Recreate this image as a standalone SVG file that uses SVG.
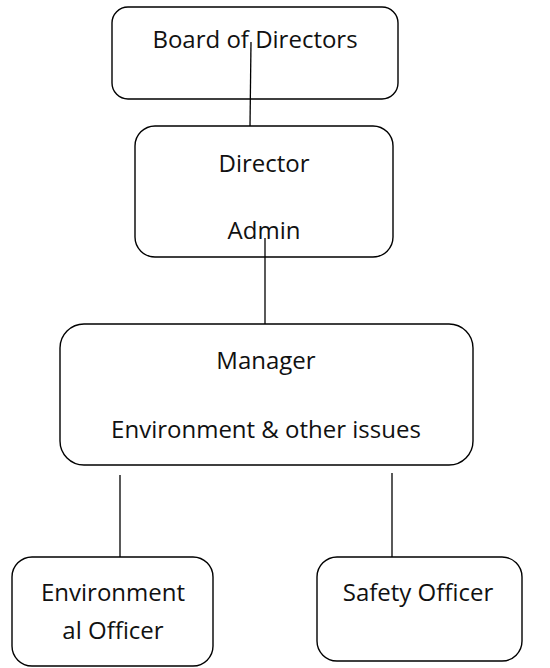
<svg xmlns="http://www.w3.org/2000/svg" width="550" height="668" viewBox="0 0 550 668">
<style>
.box{fill:#fff;stroke:#000;stroke-width:1.4}
.t{font-family:"Open Sans","Liberation Sans",sans-serif;font-size:24px;fill:#111;text-anchor:middle}
.c{stroke:#000;stroke-width:1.3;fill:none}
</style>
<rect width="550" height="668" fill="#fff"/>
<g id="board"><rect class="box" x="112" y="7" width="286" height="92" rx="16"/><text class="t" x="255" y="48">Board of Directors</text></g>
<g id="director"><rect class="box" x="135" y="126" width="258" height="131" rx="20"/><text class="t" x="264" y="172">Director</text><text class="t" x="264" y="239">Admin</text></g>
<g id="manager"><rect class="box" x="60" y="324" width="413" height="141" rx="24"/><text class="t" x="266" y="369">Manager</text><text class="t" x="266" y="438">Environment &amp; other issues</text></g>
<g id="env"><rect class="box" x="12" y="557" width="201" height="109" rx="20"/><text class="t" x="113" y="601">Environment</text><text class="t" x="113" y="639">al Officer</text></g>
<g id="safety"><rect class="box" x="317" y="557" width="205" height="104" rx="20"/><text class="t" x="418" y="601">Safety Officer</text></g>
<g id="connectors">
<line class="c" x1="251" y1="42" x2="250" y2="126"/>
<line class="c" x1="265" y1="238" x2="265" y2="324"/>
<line class="c" x1="120" y1="475" x2="120" y2="557"/>
<line class="c" x1="392" y1="473" x2="392" y2="557"/>
</g>
</svg>
